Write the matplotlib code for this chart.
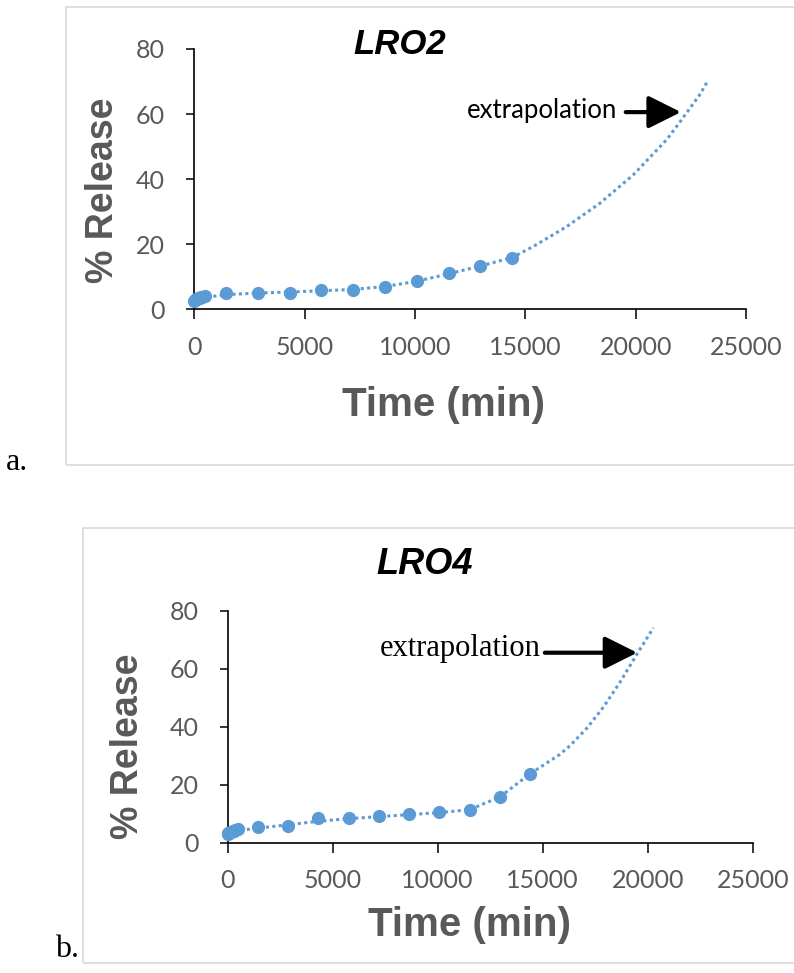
import numpy as np
import matplotlib
matplotlib.use('Agg')
import matplotlib.pyplot as plt
from matplotlib.patches import Rectangle

# sampling times (min) and % release
time_min = [0, 30, 60, 120, 180, 240, 300, 360, 480, 1440, 2880, 4320,
            5760, 7200, 8640, 10080, 11520, 12960, 14400]
release_lro2 = [2.6, 2.9, 3.1, 3.3, 3.5, 3.6, 3.8, 3.9, 4.0, 5.1, 5.1, 5.1,
                5.9, 5.9, 6.8, 8.7, 11.1, 13.4, 15.9]
release_lro4 = [3.0, 3.2, 3.4, 3.6, 3.8, 4.0, 4.2, 4.4, 4.6, 5.3, 5.8, 8.6,
                8.6, 9.2, 9.8, 10.6, 11.2, 15.8, 23.8]

# dotted trend line (with extrapolation)
trend_t_lro2 = [0, 1440, 2880, 4320, 5760, 7200, 8640, 10080, 11520, 12960,
                14400, 15360, 16870, 18380, 19890, 21400, 22000, 22910, 23250]
trend_r_lro2 = [3.2, 4.5, 5.0, 5.3, 5.7, 6.1, 7.0, 8.6, 10.9, 13.3,
                15.9, 19.3, 25.4, 32.6, 41.3, 52.1, 57.5, 66.0, 70.0]
trend_t_lro4 = [0, 1440, 2880, 4320, 5760, 7200, 8640, 10080, 11520, 12960,
                14400, 15820, 16300, 17100, 17890, 18680, 19480, 20270]
trend_r_lro4 = [3.8, 5.0, 6.2, 7.4, 8.3, 9.0, 9.7, 10.4, 11.4, 15.8,
                23.8, 30.5, 33.5, 39.5, 46.8, 55.4, 65.0, 74.2]

x_ticks = [0, 5000, 10000, 15000, 20000, 25000]
y_ticks = [0, 20, 40, 60, 80]

W, H = 794, 973
BLUE = '#5B9BD5'
GREY = '#595959'

fig = plt.figure(figsize=(W / 100, H / 100), dpi=100)


def px(x, y):
    '''pixel position -> figure fraction'''
    return x / W, 1 - y / H


def box(x0, y0, x1, y1):
    fig.patches.append(Rectangle(px(x0, y1), (x1 - x0) / W, (y1 - y0) / H,
                                 transform=fig.transFigure, fill=False,
                                 edgecolor='#d9d9d9', lw=1.2))


def panel(left, right, top, bottom, t, r, tt, tr):
    ax = fig.add_axes([left / W, 1 - bottom / H, (right - left) / W, (bottom - top) / H])
    ax.plot(tt, tr, linestyle=(0, (1, 1.1)), color=BLUE, lw=2.2, zorder=2)
    ax.plot(t, r, 'o', color=BLUE, ms=8.5, zorder=3)
    ax.set_xlim(0, 25000)
    ax.set_ylim(0, 80)
    ax.set_xticks(x_ticks)
    ax.set_yticks(y_ticks)
    ax.spines['top'].set_visible(False)
    ax.spines['right'].set_visible(False)
    for s in ('left', 'bottom'):
        ax.spines[s].set_linewidth(1.2)
    ax.tick_params(axis='x', direction='out', length=7, width=1.1, pad=12,
                   labelsize=18, labelcolor=GREY)
    ax.tick_params(axis='y', direction='out', length=6, width=1.1, pad=15,
                   labelsize=18, labelcolor=GREY)
    for lab in ax.get_xticklabels() + ax.get_yticklabels():
        lab.set_family('Lato')
    ax.patch.set_alpha(0)
    for line in ax.lines:
        line.set_clip_on(False)
    return ax


# panel a
box(66, 7, 820, 465)
ax1 = panel(194.3, 746, 49, 309.3, time_min, release_lro2, trend_t_lro2, trend_r_lro2)
fig.text(*px(400, 45), 'LRO2', ha='center', va='center', fontsize=25,
         fontweight='bold', fontstyle='italic', family='Liberation Sans')
fig.text(*px(103, 190), '% Release', ha='center', va='center', rotation=90,
         fontsize=27, fontweight='bold', color=GREY, family='Liberation Sans')
fig.text(*px(444, 405), 'Time (min)', ha='center', va='center', fontsize=29,
         fontweight='bold', color=GREY, family='Liberation Sans')
ax1.text(19150, 61, 'extrapolation', ha='right', va='center', fontsize=18.5,
         family='Lato')
ax1.annotate('', xy=(22050, 60.6), xytext=(19550, 60.6),
             arrowprops=dict(arrowstyle='-|>,head_length=1.0,head_width=0.5',
                             mutation_scale=20, lw=3, color='black',
                             shrinkA=0, shrinkB=0))
fig.text(*px(6, 470), 'a.', ha='left', va='baseline', fontsize=23,
         family='Liberation Serif')

# panel b
box(82.6, 528, 820, 963)
ax2 = panel(227.7, 752.7, 611, 842.7, time_min, release_lro4, trend_t_lro4, trend_r_lro4)
fig.text(*px(425, 564), 'LRO4', ha='center', va='center', fontsize=26,
         fontweight='bold', fontstyle='italic', family='Liberation Sans')
fig.text(*px(128, 746), '% Release', ha='center', va='center', rotation=90,
         fontsize=27, fontweight='bold', color=GREY, family='Liberation Sans')
fig.text(*px(470, 925), 'Time (min)', ha='center', va='center', fontsize=29,
         fontweight='bold', color=GREY, family='Liberation Sans')
ax2.text(14900, 67.2, 'extrapolation', ha='right', va='center', fontsize=22,
         family='Liberation Serif')
ax2.annotate('', xy=(19500, 65.6), xytext=(15100, 65.6),
             arrowprops=dict(arrowstyle='-|>,head_length=1.0,head_width=0.5',
                             mutation_scale=20, lw=3, color='black',
                             shrinkA=0, shrinkB=0))
fig.text(*px(55, 957), 'b.', ha='left', va='baseline', fontsize=23,
         family='Liberation Serif')

fig.savefig('out.png', dpi=100)
